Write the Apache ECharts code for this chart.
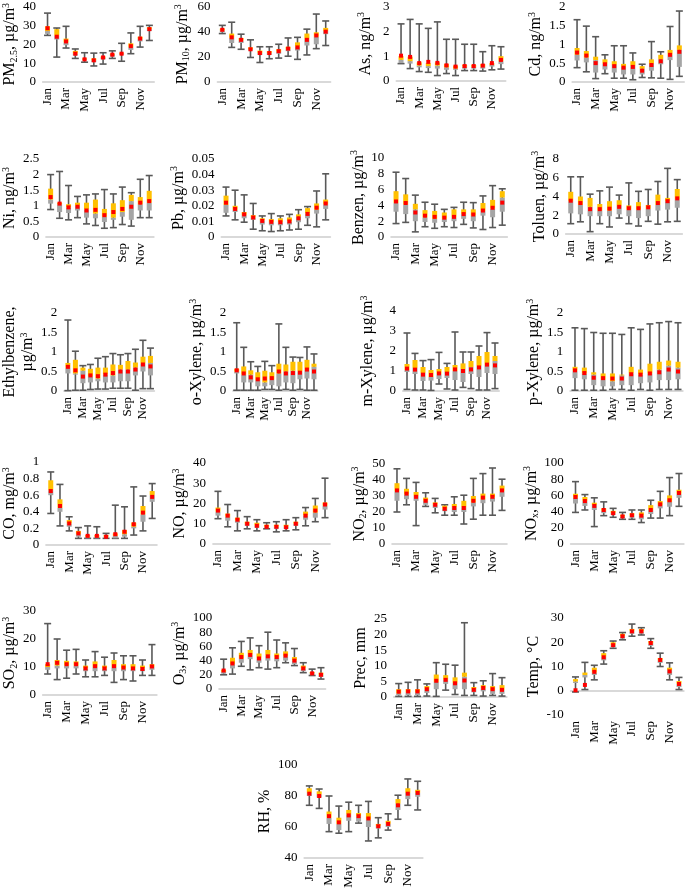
<!DOCTYPE html>
<html>
<head>
<meta charset="utf-8">
<script src="https://cdn.jsdelivr.net/npm/echarts@6/dist/echarts.min.js"></script>
<style>
  html, body { margin: 0; padding: 0; background: #fff; }
  #chart { width: 685px; height: 893px; }
</style>
</head>
<body>
<div id="chart"></div>
<script>
const months = ['Jan', 'Feb', 'Mar', 'Apr', 'May', 'Jun', 'Jul', 'Aug', 'Sep', 'Oct', 'Nov', 'Dec']

// each month: [min, q1, median, q3, max, mean]
const pm25 = [[24.7, 25.5, 27, 29.5, 36.5, 28.5], [13.2, 22.5, 24.5, 28, 28.6, 24], [18, 19.5, 21, 23, 29.5, 21.5], [12.5, 14, 15, 16.5, 17.5, 15], [10.5, 11.5, 12, 12.5, 15.5, 12], [8.5, 10.5, 11.5, 12.5, 15.3, 11.5], [9.5, 12, 12.8, 13.5, 15.5, 13], [12.5, 13.5, 14.3, 15, 16.5, 14.5], [11, 14.5, 15, 15.5, 20.5, 15], [15, 17, 18.5, 20.5, 26, 19], [18.5, 21.5, 22.8, 24, 29.5, 23], [22, 27, 28, 29, 30, 28]]
const pm10 = [[38.5, 39.5, 41, 42.5, 45, 41.5], [27.5, 31, 35, 38.5, 47.5, 35.5], [26, 31, 33, 35, 38, 33.5], [19.5, 25, 26, 27.5, 33.5, 26], [15.5, 21.5, 23, 25, 28, 23], [18.5, 21.5, 23, 24.5, 28, 23], [19, 22.5, 24, 26, 30, 24.5], [20.5, 24.5, 26, 28, 35, 26.5], [18, 25, 28, 31.5, 35.5, 27.5], [21.5, 29, 34, 38.5, 42, 33.5], [26.5, 30, 36, 39.5, 54, 37], [29, 38, 40.5, 43, 48.5, 40]]
const as = [[0.7, 0.72, 0.85, 1.0, 2.3, 1.02], [0.5, 0.7, 0.8, 0.98, 2.48, 0.97], [0.38, 0.55, 0.62, 0.75, 2.3, 0.72], [0.35, 0.52, 0.6, 0.72, 2.12, 0.77], [0.22, 0.5, 0.62, 0.75, 2.38, 0.73], [0.3, 0.45, 0.55, 0.68, 1.68, 0.63], [0.22, 0.45, 0.5, 0.62, 1.68, 0.58], [0.42, 0.5, 0.58, 0.65, 1.48, 0.6], [0.42, 0.5, 0.57, 0.65, 1.48, 0.6], [0.4, 0.5, 0.58, 0.68, 1.18, 0.62], [0.45, 0.58, 0.65, 0.72, 1.42, 0.72], [0.48, 0.68, 0.8, 1.0, 1.38, 0.85]]
const cd = [[0.38, 0.57, 0.72, 0.9, 1.65, 0.78], [0.27, 0.52, 0.65, 0.82, 1.48, 0.7], [0.09, 0.25, 0.58, 0.67, 1.2, 0.5], [0.22, 0.33, 0.48, 0.6, 0.72, 0.47], [0.1, 0.25, 0.45, 0.55, 0.96, 0.42], [0.1, 0.2, 0.4, 0.48, 0.96, 0.38], [0.06, 0.2, 0.42, 0.55, 0.77, 0.4], [0.12, 0.2, 0.35, 0.42, 0.47, 0.3], [0.11, 0.3, 0.48, 0.6, 1.07, 0.45], [0.1, 0.47, 0.6, 0.72, 0.8, 0.55], [0.07, 0.58, 0.72, 0.85, 1.47, 0.72], [0.15, 0.4, 0.85, 0.97, 1.88, 0.8]]
const ni = [[0.88, 1.07, 1.2, 1.55, 2.0, 1.28], [0.6, 0.8, 1.05, 1.1, 2.1, 1.07], [0.55, 0.77, 0.95, 1.05, 1.65, 0.95], [0.62, 0.85, 1.0, 1.1, 1.3, 0.97], [0.42, 0.62, 0.88, 1.1, 1.35, 0.85], [0.37, 0.6, 0.75, 1.2, 1.38, 0.87], [0.28, 0.48, 0.65, 0.9, 1.52, 0.7], [0.3, 0.55, 0.62, 1.08, 1.38, 0.8], [0.4, 0.65, 0.8, 1.18, 1.6, 0.9], [0.35, 0.55, 1.15, 1.35, 1.42, 0.97], [0.62, 0.85, 1.05, 1.28, 1.85, 1.1], [0.62, 0.85, 1.1, 1.48, 1.97, 1.15]]
const pb = [[0.0135, 0.0155, 0.0205, 0.0265, 0.032, 0.022], [0.011, 0.016, 0.0175, 0.02, 0.03, 0.018], [0.0095, 0.012, 0.014, 0.016, 0.027, 0.0145], [0.005, 0.011, 0.0125, 0.014, 0.0215, 0.0125], [0.004, 0.008, 0.0105, 0.012, 0.0135, 0.0103], [0.0035, 0.0075, 0.0095, 0.0115, 0.015, 0.0097], [0.004, 0.0075, 0.0095, 0.012, 0.0135, 0.0095], [0.0045, 0.008, 0.01, 0.0125, 0.0145, 0.01], [0.005, 0.0095, 0.013, 0.0145, 0.0175, 0.012], [0.0075, 0.012, 0.015, 0.0185, 0.0195, 0.0148], [0.0065, 0.015, 0.0175, 0.0215, 0.0295, 0.0188], [0.011, 0.018, 0.021, 0.024, 0.0405, 0.0215]]
const benzen = [[1.7, 3.2, 4.3, 5.8, 8.2, 4.5], [1.85, 2.9, 4.1, 5.4, 7.4, 4.3], [0.65, 2.0, 3.5, 4.2, 5.3, 3.1], [1.3, 1.9, 2.5, 3.4, 4.4, 2.7], [1.1, 1.8, 2.3, 3.3, 4.15, 2.55], [1.3, 1.9, 2.3, 3.1, 3.5, 2.45], [1.2, 2.0, 2.5, 3.5, 3.75, 2.55], [1.6, 2.3, 2.9, 3.5, 4.4, 2.9], [1.15, 2.0, 2.7, 3.5, 4.35, 2.85], [0.95, 2.7, 3.3, 4.3, 5.2, 3.35], [1.2, 2.5, 3.6, 4.7, 6.5, 3.7], [1.5, 3.2, 5.0, 5.8, 6.1, 4.35]]
const toluen = [[1.1, 2.2, 3.5, 4.5, 6.1, 3.55], [1.3, 2.1, 3.1, 4.0, 6.1, 3.3], [0.25, 1.9, 2.9, 3.85, 4.25, 2.65], [1.1, 1.9, 2.5, 3.2, 4.6, 2.65], [0.75, 1.9, 2.5, 3.5, 5.0, 2.7], [1.7, 2.1, 3.0, 3.6, 4.15, 2.9], [1.1, 1.9, 2.6, 3.05, 5.45, 2.75], [0.85, 1.7, 2.6, 3.4, 4.55, 2.75], [1.35, 1.9, 2.7, 3.1, 4.75, 2.85], [1.05, 2.5, 3.1, 4.2, 5.6, 3.3], [1.3, 2.6, 3.5, 3.85, 7.0, 3.5], [1.35, 2.8, 3.7, 4.8, 5.8, 3.8]]
const ethylbenzene = [[0.01, 0.45, 0.6, 0.72, 1.82, 0.62], [0.02, 0.42, 0.45, 0.8, 1.02, 0.53], [0.02, 0.2, 0.52, 0.6, 0.65, 0.37], [0.04, 0.22, 0.38, 0.57, 0.68, 0.4], [0.05, 0.25, 0.32, 0.6, 0.84, 0.38], [0.05, 0.22, 0.42, 0.6, 0.88, 0.42], [0.07, 0.22, 0.4, 0.68, 0.96, 0.46], [0.07, 0.25, 0.55, 0.67, 0.93, 0.5], [0.07, 0.25, 0.55, 0.77, 0.96, 0.5], [0.02, 0.4, 0.6, 0.73, 1.07, 0.55], [0.06, 0.5, 0.7, 0.88, 1.3, 0.68], [0.06, 0.4, 0.72, 0.9, 1.1, 0.63]]
const oXylene = [[0.02, 0.45, 0.5, 0.57, 1.75, 0.53], [0.02, 0.22, 0.42, 0.63, 1.12, 0.45], [0.02, 0.22, 0.42, 0.53, 0.75, 0.35], [0.02, 0.12, 0.28, 0.48, 0.63, 0.3], [0.04, 0.12, 0.22, 0.52, 0.76, 0.32], [0.04, 0.15, 0.3, 0.48, 0.65, 0.33], [0.02, 0.12, 0.45, 0.7, 1.72, 0.5], [0.04, 0.22, 0.5, 0.68, 1.12, 0.45], [0.02, 0.2, 0.52, 0.75, 0.87, 0.46], [0.04, 0.3, 0.5, 0.75, 0.86, 0.47], [0.02, 0.32, 0.55, 0.8, 1.13, 0.55], [0.02, 0.3, 0.62, 0.7, 0.95, 0.5]]
const mXylene = [[0.08, 0.95, 1.05, 1.35, 2.9, 1.12], [0.05, 0.85, 1.15, 1.55, 1.88, 1.07], [0.05, 0.5, 0.9, 1.2, 1.52, 0.82], [0.03, 0.52, 0.7, 1.05, 1.57, 0.8], [0.35, 0.6, 0.85, 1.1, 1.93, 0.88], [0.1, 0.65, 0.95, 1.2, 1.38, 0.87], [0.05, 0.55, 1.0, 1.3, 2.95, 1.08], [0.18, 0.45, 1.1, 1.38, 1.95, 1.0], [0.12, 0.85, 1.2, 1.5, 1.95, 1.08], [0.05, 0.7, 1.25, 1.75, 2.25, 1.18], [0.05, 0.9, 1.3, 1.95, 2.92, 1.32], [0.12, 0.85, 1.5, 1.75, 2.4, 1.28]]
const pXylene = [[0.02, 0.33, 0.52, 0.62, 1.62, 0.53], [0.02, 0.3, 0.45, 0.6, 1.6, 0.46], [0.02, 0.15, 0.42, 0.48, 1.5, 0.34], [0.02, 0.12, 0.3, 0.45, 1.48, 0.33], [0.04, 0.12, 0.25, 0.45, 1.48, 0.32], [0.04, 0.15, 0.4, 0.42, 1.45, 0.32], [0.02, 0.15, 0.45, 0.62, 1.62, 0.43], [0.04, 0.2, 0.42, 0.55, 1.58, 0.42], [0.02, 0.22, 0.45, 0.7, 1.72, 0.45], [0.04, 0.28, 0.55, 0.75, 1.75, 0.48], [0.04, 0.28, 0.65, 0.78, 1.78, 0.55], [0.04, 0.3, 0.6, 0.75, 1.75, 0.5]]
const co = [[0.38, 0.6, 0.66, 0.78, 0.88, 0.65], [0.23, 0.4, 0.45, 0.55, 0.73, 0.47], [0.17, 0.22, 0.26, 0.3, 0.34, 0.26], [0.08, 0.1, 0.13, 0.17, 0.21, 0.14], [0.08, 0.08, 0.1, 0.12, 0.23, 0.11], [0.08, 0.08, 0.1, 0.12, 0.22, 0.11], [0.08, 0.09, 0.1, 0.12, 0.14, 0.1], [0.08, 0.08, 0.11, 0.14, 0.48, 0.13], [0.08, 0.1, 0.13, 0.18, 0.46, 0.16], [0.12, 0.2, 0.22, 0.27, 0.7, 0.25], [0.17, 0.28, 0.37, 0.47, 0.59, 0.39], [0.32, 0.52, 0.6, 0.65, 0.74, 0.58]]
const no = [[12.5, 14, 16, 18, 26, 16.5], [8.5, 11.5, 13.5, 15, 19.5, 14], [6.5, 10.5, 11.5, 13, 16.5, 12], [7.5, 9, 10, 11, 13.5, 10], [6.5, 8, 9, 10.5, 12, 9], [7.5, 8, 8.5, 9.5, 10.5, 8.5], [6, 7.5, 8.5, 9.5, 11, 8.5], [6.5, 7.5, 8.5, 9.5, 12, 8.3], [7, 9, 10, 11, 13, 10], [9, 12, 14, 16, 18, 14], [11, 13, 15.5, 19, 22.5, 16.5], [13, 17, 19, 20.5, 32.5, 19.5]]
const no2 = [[20, 27, 33, 38, 47, 33.5], [24.5, 28, 31, 34.5, 41, 31.5], [11.5, 27, 30, 32.5, 38.5, 29.5], [23.5, 24.5, 27, 29, 32, 27], [19.5, 22.5, 24.5, 26, 28.5, 24.5], [18, 20.5, 22, 24, 24.5, 22], [18, 20, 23, 25, 29.5, 22.5], [12.5, 20, 23, 27, 30.5, 22.5], [15.5, 23.5, 26, 30, 41, 27], [18, 25.5, 28, 31.5, 44, 29], [18, 26.5, 29, 31.5, 47.5, 29.5], [21, 29.5, 33, 36.5, 40.5, 33.5]]
const nox = [[39, 50, 57, 62, 77, 58], [42, 47, 53, 58, 61, 53], [21.5, 42, 48, 51, 57, 47], [35, 38, 41, 44, 52, 42], [33, 36, 38, 41, 44, 38], [30.5, 32, 34, 36, 39, 34], [30.5, 32.5, 35, 38, 42, 35.5], [26.5, 30.5, 35, 39, 42, 35], [32, 37, 42, 48, 54, 42], [32, 44, 48, 53, 65, 49], [35, 46, 52, 60, 82, 54], [46.5, 57, 62, 67, 87, 63]]
const so2 = [[7.5, 9, 10, 11, 25.5, 11], [5.5, 9.5, 10.5, 12.5, 20, 11.5], [6, 9.5, 10.5, 12.2, 16, 11], [7.5, 9.5, 10.5, 12, 16.3, 11], [6.5, 8.5, 9.5, 10.5, 12.5, 9.5], [6.5, 8.5, 10, 12, 15.5, 10.3], [7, 8.5, 9.5, 10.5, 13.5, 9.5], [4.5, 8.5, 10, 12.5, 15, 10.3], [5.5, 8.5, 9.5, 11, 14, 9.8], [5, 8.5, 9.5, 11, 14, 9.5], [7, 8.5, 9.5, 10.5, 12.5, 9.3], [7, 9, 10, 11, 18, 10.2]]
const o3 = [[20, 21.5, 24, 27, 42, 26], [21, 29, 35, 44, 58, 36], [32, 37, 43, 51, 67, 45], [27, 42, 48, 55, 72, 48], [30, 37, 43, 50, 61, 43], [28, 40, 47, 55, 80, 46], [30, 39, 44, 50, 69, 45], [37, 40, 46, 53, 65, 47], [33, 35, 40, 45, 57, 40], [23, 25, 29, 33, 37, 29], [19, 19.5, 22, 24, 28, 22], [14, 17, 20, 23, 30, 20]]
const prec = [[0.2, 0.5, 1.2, 2.5, 4.3, 1.7], [0.2, 0.6, 1.5, 2.5, 4.7, 1.8], [0.2, 0.6, 1.5, 2.5, 5.5, 1.8], [0.3, 1.3, 2.5, 3.5, 4.2, 2.5], [0.2, 2.5, 4.8, 7.2, 11, 5.2], [2.2, 4.2, 5.5, 7, 10.5, 5.5], [0.8, 2.5, 4.5, 6.3, 10.2, 4.4], [0.5, 2.5, 6.5, 7.8, 23.8, 5.3], [0.5, 1.5, 2.5, 3.2, 4.6, 2.3], [0.3, 1.8, 2.8, 3.8, 5.2, 2.9], [0.5, 1.0, 2.2, 3.5, 7.5, 2.5], [0.3, 1.0, 2.2, 3.8, 6.2, 2.3]]
const temp = [[-0.5, 3.2, 3.8, 4.8, 5.7, 0.2], [0.5, 5.5, 6.5, 7.5, 11.7, 2.4], [4.5, 6.5, 7.5, 9.5, 10.5, 7.8], [11, 12.5, 14, 15.5, 16.5, 13.8], [17.5, 17.8, 18.8, 20, 20.5, 18.8], [21, 21.5, 22.5, 23.5, 24, 22.5], [22.5, 23.5, 24.5, 25.5, 27.5, 24.5], [23, 23.5, 24.5, 25.5, 26, 24.5], [17.5, 18.5, 19.5, 20.5, 21.5, 19.7], [10, 11.5, 12.5, 13.5, 15.5, 12.7], [4.5, 6.5, 8.5, 9.5, 11.5, 8], [0.5, 1.5, 2.8, 4, 5.5, 2.8]]
const rh = [[74, 80, 82, 85, 86.5, 81.5], [72, 79, 81, 83, 84.5, 80], [57, 62, 66, 70, 80, 67], [56, 58, 62, 66, 73.5, 63], [57, 64, 68, 71, 76, 67.5], [62.5, 63.5, 67, 69, 74, 67], [51, 60, 65, 69, 76.5, 65.5], [53, 59, 60.5, 62, 66, 60.5], [58, 60, 62, 64, 68.5, 62], [65, 71, 75, 78, 80.5, 74], [74, 78, 82, 85, 91, 81.5], [71, 79.5, 82, 84, 89.5, 82]]

// panel: data, axis name, y range, grid box [left, right, top, bottom] in px, name gap
const panels = [
  { data: pm25, name: 'PM{sub|2.5}, µg/m{sup|3}', min: 0, max: 40, interval: 10, box: [37.5, 154, 5, 82], gap: 16 },
  { data: pm10, name: 'PM{sub|10}, µg/m{sup|3}', min: 0, max: 60, interval: 20, box: [217.6, 330.4, 5, 82], gap: 26 },
  { data: as, name: 'As, ng/m{sup|3}', min: 0, max: 3, interval: 1, box: [396.5, 505.5, 5, 81], gap: 22 },
  { data: cd, name: 'Cd, ng/m{sup|3}', min: 0, max: 2, interval: 0.5, box: [572.4, 684, 5, 82], gap: 24 },
  { data: ni, name: 'Ni, ng/m{sup|3}', min: 0, max: 2.5, interval: 0.5, box: [42, 153.7, 159, 237], gap: 27 },
  { data: pb, name: 'Pb, µg/m{sup|3}', min: 0, max: 0.05, interval: 0.01, box: [221.5, 330.2, 159, 237], gap: 28 },
  { data: benzen, name: 'Benzen, µg/m{sup|3}', min: 0, max: 10, interval: 2, box: [391.2, 507.1, 158, 237], gap: 22 },
  { data: toluen, name: 'Toluen, µg/m{sup|3}', min: 0, max: 8, interval: 2, box: [565.9, 682.1, 159, 234], gap: 15 },
  { data: ethylbenzene, name: 'Ethylbenzene,\nµg/m{sup|3}', min: 0, max: 2, interval: 0.5, box: [49.3, 154.2, 313, 391], gap: 22 },
  { data: oXylene, name: 'o-Xylene, µg/m{sup|3}', min: 0, max: 2, interval: 0.5, box: [233.2, 317.5, 313, 391], gap: 26 },
  { data: mXylene, name: 'm-Xylene, µg/m{sup|3}', min: 0, max: 4, interval: 1, box: [403, 499, 311, 391], gap: 26 },
  { data: pXylene, name: 'p-Xylene, µg/m{sup|3}', min: 0, max: 2, interval: 0.5, box: [570.3, 682.7, 313, 391], gap: 22 },
  { data: co, name: 'CO, mg/m{sup|3}', min: 0, max: 1, interval: 0.2, box: [42.2, 156.8, 462, 545], gap: 22 },
  { data: no, name: 'NO, µg/m{sup|3}', min: 0, max: 40, interval: 10, box: [213.1, 329.9, 463, 544], gap: 22 },
  { data: no2, name: 'NO{sub|2}, µg/m{sup|3}', min: 0, max: 50, interval: 10, box: [392.2, 506.8, 464, 544], gap: 20 },
  { data: nox, name: 'NO{sub|x}, µg/m{sup|3}', min: 0, max: 100, interval: 20, box: [570.8, 683.7, 463, 544], gap: 24 },
  { data: so2, name: 'SO{sub|2}, µg/m{sup|3}', min: 0, max: 30, interval: 10, box: [36, 156.7, 611, 695], gap: 20 },
  { data: o3, name: 'O{sub|3}, µg/m{sup|3}', min: 0, max: 100, interval: 20, box: [219.2, 325.4, 618, 689], gap: 28 },
  { data: prec, name: 'Prec, mm', min: 0, max: 25, interval: 5, box: [394, 506.7, 619, 697], gap: 22 },
  { data: temp, name: 'Temp, °C', min: -10, max: 30, interval: 10, box: [570.8, 683.7, 618, 715], gap: 24 },
  { data: rh, name: 'RH, %', min: 40, max: 100, interval: 20, box: [304.4, 422.6, 765, 858], gap: 22 }
]

const FONT = '"Liberation Serif", "Times New Roman", serif'

function renderBox(params, api) {
  const i = api.value(0)
  const pt = v => api.coord([i, v])
  const [x, yMin] = pt(api.value(1))
  const yQ1 = pt(api.value(2))[1]
  const yMed = pt(api.value(3))[1]
  const yQ3 = pt(api.value(4))[1]
  const yMax = pt(api.value(5))[1]
  const yMean = pt(api.value(6))[1]
  const bw = 5, cw = 7, dot = 4
  const stroke = { stroke: '#595959', lineWidth: 1.6 }
  return {
    type: 'group',
    children: [
      { type: 'line', shape: { x1: x, y1: yMax, x2: x, y2: yMin }, style: stroke },
      { type: 'line', shape: { x1: x - cw / 2, y1: yMax, x2: x + cw / 2, y2: yMax }, style: stroke },
      { type: 'line', shape: { x1: x - cw / 2, y1: yMin, x2: x + cw / 2, y2: yMin }, style: stroke },
      { type: 'rect', shape: { x: x - bw / 2, y: yMed, width: bw, height: yQ1 - yMed }, style: { fill: '#A5A5A5' } },
      { type: 'rect', shape: { x: x - bw / 2, y: yQ3, width: bw, height: yMed - yQ3 }, style: { fill: '#FFC000' } },
      { type: 'rect', shape: { x: x - dot / 2, y: yMean - dot / 2, width: dot, height: dot }, style: { fill: '#FF0000' } }
    ]
  }
}

const grid = [], xAxis = [], yAxis = [], series = []
panels.forEach((p, k) => {
  const [l, r, t, b] = p.box
  grid.push({ left: l, top: t, width: r - l, height: b - t })
  xAxis.push({
    type: 'category',
    gridIndex: k,
    data: months,
    boundaryGap: true,
    axisLine: { lineStyle: { color: '#D9D9D9', width: 2 } },
    axisTick: { show: false },
    axisLabel: { interval: 1, rotate: 90, margin: 6, fontFamily: FONT, fontSize: 13, color: '#000' }
  })
  yAxis.push({
    type: 'value',
    gridIndex: k,
    min: p.min,
    max: p.max,
    interval: p.interval,
    splitLine: { show: false },
    axisLine: { show: false },
    axisTick: { show: false },
    axisLabel: { margin: 7, fontFamily: FONT, fontSize: 13, color: '#000' },
    name: p.name,
    nameLocation: 'middle',
    nameRotate: 90,
    nameGap: p.gap,
    nameTextStyle: {
      fontFamily: FONT,
      fontSize: 16,
      color: '#000',
      lineHeight: 18,
      rich: {
        sup: { fontFamily: FONT, fontSize: 10, color: '#000', verticalAlign: 'top', lineHeight: 10 },
        sub: { fontFamily: FONT, fontSize: 10, color: '#000', verticalAlign: 'bottom', lineHeight: 10 }
      }
    }
  })
  series.push({
    type: 'custom',
    xAxisIndex: k,
    yAxisIndex: k,
    renderItem: renderBox,
    encode: { x: 0, y: [1, 2, 3, 4, 5, 6] },
    data: p.data.map((d, i) => [i].concat(d)),
    silent: true,
    clip: false
  })
})

const chart = echarts.init(document.getElementById('chart'), null, { renderer: 'canvas' })
chart.setOption({
  backgroundColor: '#fff',
  animation: false,
  grid: grid,
  xAxis: xAxis,
  yAxis: yAxis,
  series: series
})
</script>
</body>
</html>
